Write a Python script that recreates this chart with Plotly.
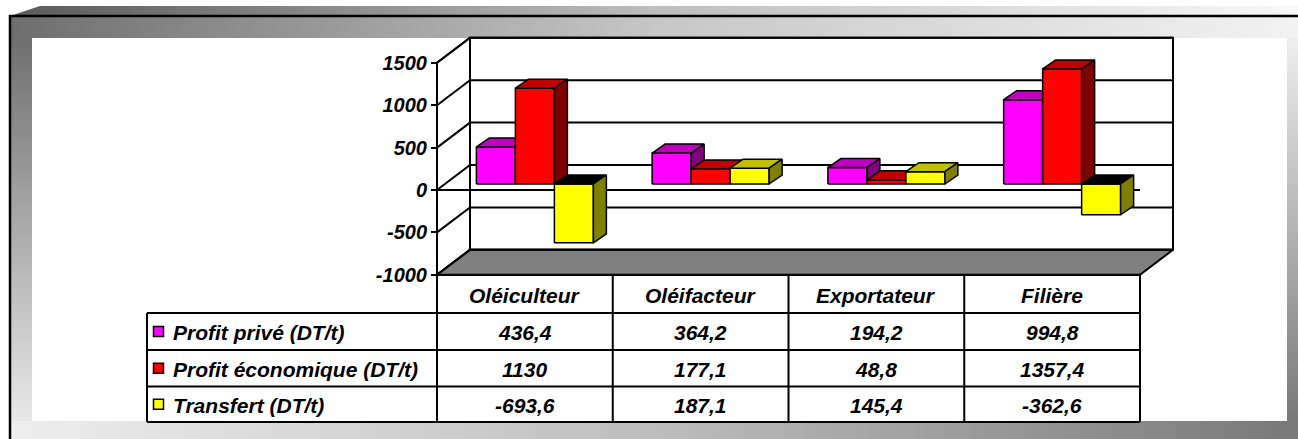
import plotly.graph_objects as go

# ---------------- data ----------------
categories = ["Oléiculteur", "Oléifacteur", "Exportateur", "Filière"]
series_names = ["Profit privé (DT/t)", "Profit économique (DT/t)", "Transfert (DT/t)"]
profit_prive = [436.4, 364.2, 194.2, 994.8]
profit_economique = [1130, 177.1, 48.8, 1357.4]
transfert = [-693.6, 187.1, 145.4, -362.6]
y_ticks = [-1000, -500, 0, 500, 1000, 1500]

series_values = [profit_prive, profit_economique, transfert]
front_colors = ["#FF00FF", "#FF0000", "#FFFF00"]
top_colors = ["#C000C0", "#C00000", "#C0C000"]
side_colors = ["#800080", "#800000", "#808000"]

# ---------------- layout constants (pixels) ----------------
W, H = 1298, 439
X0 = 437.0      # px of the front-left corner of the category axis
CW = 175.75     # px per category
Y0 = 190.0      # px of value 0 on the front plane
K = 0.0848      # px per value unit

DX, DV = 33 / CW, 25 / K      # wall depth
BX, BV = 10 / CW, 6 / K       # bar front plane offset
BDX, BDV = 13 / CW, 9 / K     # bar depth
BW = 39 / CW                  # bar width

FONT = "Liberation Sans, Arial, sans-serif"
VMIN, VMAX = min(y_ticks), max(y_ticks)
NC = len(categories)


def bi(s):
    return "<b><i>" + s + "</i></b>"


def fmt(v):
    return f"{v:g}".replace(".", ",")


fig = go.Figure()


def poly(xs, ys, fill, line="black", lw=1.5, axes=("x2", "y2"), gradient=None):
    kw = dict(x=list(xs) + [xs[0]], y=list(ys) + [ys[0]], mode="lines",
              fill="toself", fillcolor=fill,
              line=dict(color=line, width=lw), hoverinfo="skip",
              showlegend=False, xaxis=axes[0], yaxis=axes[1])
    if gradient is not None:
        kw["fillgradient"] = gradient
    fig.add_trace(go.Scatter(**kw))


# ---------------- frame decoration (pixel axes x/y) ----------------
PX = ("x", "y")
NOLINE = "rgba(0,0,0,0)"
poly([10, 40, W, W], [16, 6, 6, 16], "#999", line=NOLINE, lw=0, axes=PX,
     gradient=dict(type="horizontal", colorscale=[[0, "#5a5a5a"], [0.5, "#bdbdbd"], [1, "#f8f8f8"]]))
poly([10, W, W, 10], [16, 16, 38, 38], "#aaa", line=NOLINE, lw=0, axes=PX,
     gradient=dict(type="horizontal", colorscale=[[0, "#6e6e6e"], [0.5, "#c6c6c6"], [1, "#f2f2f2"]]))
poly([10, 32, 32, 10], [38, 38, H, H], "#aaa", line=NOLINE, lw=0, axes=PX,
     gradient=dict(type="vertical", colorscale=[[0, "#eeeeee"], [1, "#6e6e6e"]]))
poly([10, W, W, 10], [421, 421, H, H], "#aaa", line=NOLINE, lw=0, axes=PX,
     gradient=dict(type="horizontal", colorscale=[[0, "#eeeeee"], [0.5, "#bdbdbd"], [1, "#787878"]]))
poly([1287, W, W, 1287], [38, 38, 421, 421], "#aaa", line=NOLINE, lw=0, axes=PX,
     gradient=dict(type="vertical", colorscale=[[0, "#787878"], [1, "#eeeeee"]]))
fig.add_trace(go.Scatter(x=[10, 10, W], y=[H, 16, 16], mode="lines",
                         line=dict(color="black", width=2.5), hoverinfo="skip",
                         showlegend=False, xaxis="x", yaxis="y"))

# legend keys in the data table
row_edges = [313, 350, 386.5, 422]
row_centers = [(row_edges[i] + row_edges[i + 1]) / 2 for i in range(3)]
fig.add_trace(go.Scatter(x=[158.5] * 3, y=row_centers, mode="markers",
                         marker=dict(symbol="square", size=10, color=front_colors,
                                     line=dict(color="black", width=1.5)),
                         hoverinfo="skip", showlegend=False, xaxis="x", yaxis="y"))

# ---------------- 3D walls & floor (data axes x2/y2) ----------------
poly([0, 0, DX, DX], [VMIN, VMAX, VMAX + DV, VMIN + DV], "white", lw=2)
poly([DX, DX, NC + DX, NC + DX], [VMIN + DV, VMAX + DV, VMAX + DV, VMIN + DV], "white", lw=2)
poly([0, NC, NC + DX, DX], [VMIN, VMIN, VMIN + DV, VMIN + DV], "#808080", lw=2)

gx, gy = [], []
for t in y_ticks:
    gx += [0, DX, NC + DX, None]
    gy += [t, t + DV, t + DV, None]
gx += [0, NC, None]
gy += [0, 0, None]
fig.add_trace(go.Scatter(x=gx, y=gy, mode="lines", line=dict(color="black", width=2),
                         hoverinfo="skip", showlegend=False, xaxis="x2", yaxis="y2"))

# ---------------- 3D bars ----------------
for i in range(NC):
    center = i + 0.5 + BX
    for s, vals in enumerate(series_values):
        v = vals[i]
        xl = center + (s - 1.5) * BW
        xr = xl + BW
        lo, hi = min(BV, BV + v), max(BV, BV + v)
        poly([xl, xr, xr, xl], [lo, lo, hi, hi], front_colors[s])
        poly([xl, xr, xr + BDX, xl + BDX], [hi, hi, hi + BDV, hi + BDV],
             top_colors[s] if v >= 0 else "#000000")
        poly([xr, xr, xr + BDX, xr + BDX], [lo, hi, hi + BDV, lo + BDV], side_colors[s])

# ---------------- data table ----------------
col_edges = [X0 + k * CW for k in range(NC + 1)]
LEFT = 147
shapes = []
for y in row_edges:
    shapes.append(dict(type="line", xref="x", yref="y", x0=LEFT, x1=col_edges[-1], y0=y, y1=y,
                       line=dict(color="black", width=2)))
shapes.append(dict(type="line", xref="x", yref="y", x0=col_edges[0], x1=col_edges[-1], y0=275, y1=275,
                   line=dict(color="black", width=2)))
shapes.append(dict(type="line", xref="x", yref="y", x0=LEFT, x1=LEFT, y0=row_edges[0], y1=row_edges[-1],
                   line=dict(color="black", width=2)))
for xe in col_edges:
    shapes.append(dict(type="line", xref="x", yref="y", x0=xe, x1=xe, y0=275, y1=row_edges[-1],
                       line=dict(color="black", width=2)))

annotations = []
tfont = dict(family=FONT, size=21, color="black")
for k, c in enumerate(categories):
    cx = (col_edges[k] + col_edges[k + 1]) / 2
    annotations.append(dict(x=cx, y=295, xref="x", yref="y", text=bi(c), showarrow=False,
                            font=tfont, xanchor="center", yanchor="middle"))
    for s, vals in enumerate(series_values):
        annotations.append(dict(x=cx, y=row_centers[s] + 1, xref="x", yref="y", text=bi(fmt(vals[k])),
                                showarrow=False, font=tfont, xanchor="center", yanchor="middle"))
for s, name in enumerate(series_names):
    annotations.append(dict(x=171, y=row_centers[s] + 1, xref="x", yref="y", text=bi(name),
                            showarrow=False, font=tfont, xanchor="left", yanchor="middle"))

# ---------------- axes ----------------
x2_range = [(0 - X0) / CW, (W - X0) / CW]
y2_range = [(Y0 - H) / K, (Y0 - 0) / K]

fig.update_layout(
    width=W, height=H,
    margin=dict(l=0, r=0, t=0, b=0, pad=0),
    paper_bgcolor="white", plot_bgcolor="white",
    showlegend=False,
    xaxis=dict(range=[0, W], domain=[0, 1], visible=False, fixedrange=True),
    yaxis=dict(range=[H, 0], domain=[0, 1], visible=False, fixedrange=True),
    xaxis2=dict(range=x2_range, overlaying="x", visible=False, fixedrange=True),
    yaxis2=dict(range=y2_range, overlaying="y", anchor="free", position=X0 / W,
                tickmode="array", tickvals=y_ticks, ticktext=[bi(str(t)) for t in y_ticks],
                ticks="outside", ticklen=6, tickwidth=2, tickcolor="black",
                showgrid=False, zeroline=False, showline=False,
                tickfont=dict(family=FONT, size=20, color="black"), fixedrange=True),
    shapes=shapes,
    annotations=annotations,
)

fig.write_html("out.html", config={"displayModeBar": False},
               post_script="document.body.style.margin='0';document.body.style.padding='0';")
